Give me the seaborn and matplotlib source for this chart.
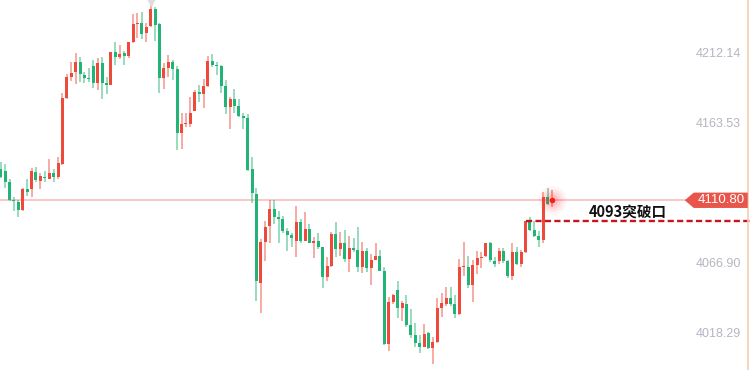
import numpy as np
import matplotlib.pyplot as plt
import matplotlib.transforms as mtransforms
from matplotlib.patches import Polygon
import seaborn as sns

sns.set_theme(style="white")
plt.rcParams['font.family'] = ['Liberation Sans', 'Noto Sans CJK SC', 'DejaVu Sans']

# ---------------------------------------------------------------
# OHLC (one entry per candle)
# ---------------------------------------------------------------
opens = [4132.4, 4131.2, 4123.6, 4111.0, 4109.8, 4104.1, 4118.3, 4118.3, 4130.5, 4124.3,
         4127.1, 4125.5, 4129.4, 4126.6, 4135.8, 4181.2, 4196.2, 4199.4, 4206.3, 4197.3,
         4195.5, 4203.5, 4191.5, 4205.8, 4192.0, 4190.4, 4213.0, 4209.5, 4212.3, 4210.4,
         4219.9, 4232.3, 4233.0, 4226.1, 4231.1, 4242.7, 4232.3, 4195.0, 4202.1, 4206.3,
         4201.4, 4157.5, 4163.5, 4163.5, 4172.4, 4185.3, 4184.0, 4189.7, 4207.0, 4204.2,
         4203.5, 4189.7, 4175.4, 4180.7, 4175.9, 4169.0, 4167.6, 4132.2, 4115.1, 4053.9,
         4082.2, 4093.0, 4104.5, 4099.5, 4097.6, 4089.8, 4086.8, 4082.9, 4096.0, 4082.9,
         4090.9, 4081.0, 4082.9, 4078.3, 4058.0, 4065.6, 4087.3, 4076.9, 4081.5, 4070.0,
         4078.1, 4076.4, 4064.9, 4076.0, 4063.8, 4069.5, 4072.3, 4062.2, 4011.3, 4040.5,
         4048.8, 4036.6, 4039.2, 4024.7, 4017.7, 4012.4, 4009.7, 4018.9, 4008.5, 4013.1,
         4036.2, 4039.2, 4043.5, 4038.9, 4032.0, 4064.9, 4064.9, 4052.3, 4066.1, 4071.1,
         4072.3, 4081.0, 4069.1, 4068.8, 4076.0, 4069.1, 4058.5, 4075.1, 4066.8, 4074.8,
         4096.2, 4090.2, 4086.1, 4083.3, 4112.8, 4110.1]
highs = [4137.0, 4135.8, 4125.3, 4113.3, 4111.0, 4119.0, 4125.3, 4132.8, 4134.0, 4129.4,
         4131.2, 4139.5, 4132.2, 4140.4, 4185.1, 4198.0, 4206.5, 4212.3, 4210.0, 4199.6,
         4202.4, 4207.7, 4209.3, 4209.5, 4196.2, 4213.4, 4219.9, 4218.0, 4213.9, 4220.3,
         4239.4, 4239.9, 4240.6, 4233.0, 4245.6, 4244.5, 4233.0, 4205.8, 4211.1, 4207.7,
         4203.8, 4170.8, 4170.8, 4181.9, 4186.9, 4190.4, 4194.3, 4210.4, 4211.8, 4206.5,
         4204.2, 4193.9, 4182.3, 4187.4, 4180.7, 4170.8, 4170.1, 4140.9, 4119.0, 4083.8,
         4096.5, 4111.0, 4111.0, 4103.6, 4099.9, 4091.4, 4087.9, 4107.1, 4097.9, 4102.5,
         4094.2, 4085.2, 4087.9, 4078.8, 4071.8, 4089.1, 4096.0, 4088.6, 4090.2, 4086.1,
         4085.0, 4092.1, 4082.0, 4077.6, 4073.7, 4081.0, 4076.4, 4064.9, 4044.2, 4046.1,
         4055.3, 4041.5, 4045.4, 4035.5, 4026.3, 4017.7, 4025.3, 4020.0, 4016.6, 4043.1,
         4046.9, 4050.7, 4050.7, 4045.4, 4070.0, 4082.2, 4072.3, 4069.5, 4076.0, 4074.8,
         4081.5, 4081.8, 4071.8, 4077.6, 4078.1, 4069.5, 4081.0, 4078.3, 4076.4, 4096.7,
         4099.0, 4096.7, 4089.8, 4116.3, 4119.0, 4117.9]
lows = [4125.9, 4119.0, 4110.5, 4103.6, 4099.0, 4103.6, 4113.7, 4112.8, 4123.6, 4118.6,
        4123.6, 4125.3, 4123.6, 4125.7, 4135.1, 4181.0, 4193.2, 4191.1, 4192.7, 4191.5,
        4192.5, 4188.1, 4186.9, 4180.5, 4184.0, 4190.2, 4204.2, 4208.4, 4204.2, 4208.8,
        4219.6, 4222.6, 4221.9, 4220.3, 4230.7, 4220.8, 4185.1, 4187.4, 4196.2, 4193.9,
        4145.5, 4146.4, 4161.2, 4161.6, 4172.2, 4178.9, 4174.3, 4189.2, 4203.1, 4197.3,
        4184.6, 4170.1, 4159.8, 4170.8, 4168.5, 4160.0, 4131.0, 4108.7, 4041.5, 4032.7,
        4068.9, 4081.0, 4094.4, 4081.0, 4088.4, 4076.0, 4078.3, 4071.8, 4081.0, 4082.7,
        4081.0, 4070.7, 4076.9, 4050.0, 4055.0, 4064.9, 4071.8, 4072.3, 4068.4, 4061.5,
        4075.3, 4061.0, 4060.8, 4061.0, 4052.3, 4069.3, 4061.9, 4010.6, 4006.9, 4038.9,
        4029.3, 4027.6, 4023.5, 4015.4, 4009.7, 4005.1, 4009.2, 4008.3, 3997.7, 4012.0,
        4030.4, 4037.8, 4037.8, 4029.3, 4031.6, 4058.5, 4050.0, 4040.8, 4059.9, 4063.8,
        4071.8, 4067.9, 4064.9, 4066.8, 4067.2, 4056.9, 4055.7, 4066.1, 4064.9, 4074.6,
        4089.8, 4085.2, 4078.3, 4081.0, 4107.5, 4106.4]
closes = [4127.1, 4123.6, 4111.0, 4110.3, 4104.1, 4118.3, 4116.7, 4130.8, 4124.8, 4127.6,
          4126.4, 4129.4, 4127.1, 4136.3, 4181.2, 4195.7, 4198.9, 4206.3, 4198.0, 4195.5,
          4194.8, 4191.5, 4205.8, 4192.0, 4190.4, 4213.0, 4209.5, 4211.6, 4210.7, 4219.9,
          4232.5, 4233.0, 4225.4, 4230.7, 4242.7, 4231.8, 4195.0, 4201.9, 4206.3, 4201.4,
          4157.5, 4163.5, 4164.2, 4170.8, 4185.8, 4184.0, 4189.7, 4207.0, 4204.2, 4203.5,
          4189.7, 4175.4, 4180.7, 4175.9, 4169.0, 4167.6, 4131.7, 4115.6, 4055.3, 4082.2,
          4092.6, 4104.5, 4099.5, 4097.6, 4089.8, 4086.8, 4084.5, 4096.0, 4082.9, 4090.9,
          4081.5, 4082.9, 4078.3, 4058.0, 4065.4, 4087.3, 4076.9, 4081.5, 4070.0, 4078.1,
          4076.4, 4064.9, 4076.0, 4063.8, 4069.5, 4072.3, 4062.2, 4011.3, 4040.5, 4045.4,
          4036.6, 4039.6, 4024.7, 4017.7, 4012.4, 4009.7, 4018.4, 4008.5, 4013.1, 4036.2,
          4039.6, 4043.5, 4039.2, 4032.0, 4064.9, 4065.6, 4052.3, 4066.1, 4070.7, 4071.8,
          4081.0, 4069.5, 4066.8, 4076.0, 4069.1, 4058.5, 4075.1, 4066.8, 4074.8, 4096.2,
          4090.2, 4086.1, 4083.3, 4112.8, 4108.2, 4110.8]

y_ticks = [4018.29, 4066.90, 4163.53, 4212.14]
last_price = 4110.80
breakout_level = 4096.5
breakout_start = 119      # candle where the dashed line starts
breakout_text = "4093突破口"
high_candle = 34          # candle with the top marker

up_color = '#ee4a3c'
down_color = '#22b477'

# ---------------------------------------------------------------
fig = plt.figure(figsize=(7.5, 3.7), dpi=100)
ax = fig.add_axes([0, 0, 1, 1])
ax.set_facecolor('white')

o = np.array(opens); h = np.array(highs); l = np.array(lows); c = np.array(closes)
x = np.arange(len(o))
colors = np.where(c >= o, up_color, down_color)

# wicks (lighter) then bodies
ax.vlines(x, l, h, colors=colors, linewidth=1.2, alpha=0.55, zorder=2)
body = np.maximum(np.abs(c - o), 0.7)
ax.bar(x, body, bottom=np.minimum(o, c), width=0.68, color=colors,
       linewidth=0, zorder=3)

# last price line + label
trans = mtransforms.blended_transform_factory(ax.transAxes, ax.transData)
ax.axhline(last_price, xmin=0, xmax=0.915, color='#f7c4c4', lw=1.3, zorder=1)

# axis price labels on the right
for t in y_ticks:
    ax.text(0.988, t, f"{t:.2f}", transform=trans, ha='right', va='center',
            fontsize=9, color='#b4b6c0', zorder=4)

tag = Polygon([[0.913, last_price], [0.925, last_price + 5.3], [0.997, last_price + 5.3],
               [0.997, last_price - 5.3], [0.925, last_price - 5.3]],
              closed=True, transform=trans, facecolor='#e8554a', edgecolor='none', zorder=6)
ax.add_patch(tag)
ax.text(0.961, last_price, f"{last_price:.2f}", transform=trans, ha='center',
        va='center', fontsize=9.5, color='white', zorder=7)

# right border line
ax.axvline(169.4, color='#f5cfb0', lw=1.2, zorder=5)

# breakout dashed line + annotation
ax.hlines(breakout_level, breakout_start, 175, colors='#c4161c', lw=1.7,
          linestyles=(0, (2.6, 1.4)), zorder=4)
ax.text(133.4, breakout_level + 6.2, breakout_text, ha='left', va='center',
        fontsize=10.5, fontweight='bold', color='#111111',
        family=['Noto Sans CJK SC', 'DejaVu Sans'], zorder=5)

# glow on the last candle
for s, a in [(420, 0.05), (260, 0.07), (150, 0.09), (70, 0.12)]:
    sns.scatterplot(x=[x[-1]], y=[last_price], s=s, color='#ff2a2a', alpha=a,
                    linewidth=0, ax=ax, zorder=3, legend=False)
sns.scatterplot(x=[x[-1]], y=[last_price], s=16, color='#ee2020',
                linewidth=0, ax=ax, zorder=8, legend=False)

# top marker over the highest candle
ax.scatter([high_candle], [4249.0], marker='v', s=70, color='#dedede', zorder=2)

ax.set_xlim(-0.16, 169.9)
ax.set_ylim(3993.6, 4249.1)
ax.set_xticks([]); ax.set_yticks([])
for sp in ax.spines.values():
    sp.set_visible(False)
ax.grid(False)

plt.savefig('out.png', dpi=100, facecolor='white')
plt.close()
